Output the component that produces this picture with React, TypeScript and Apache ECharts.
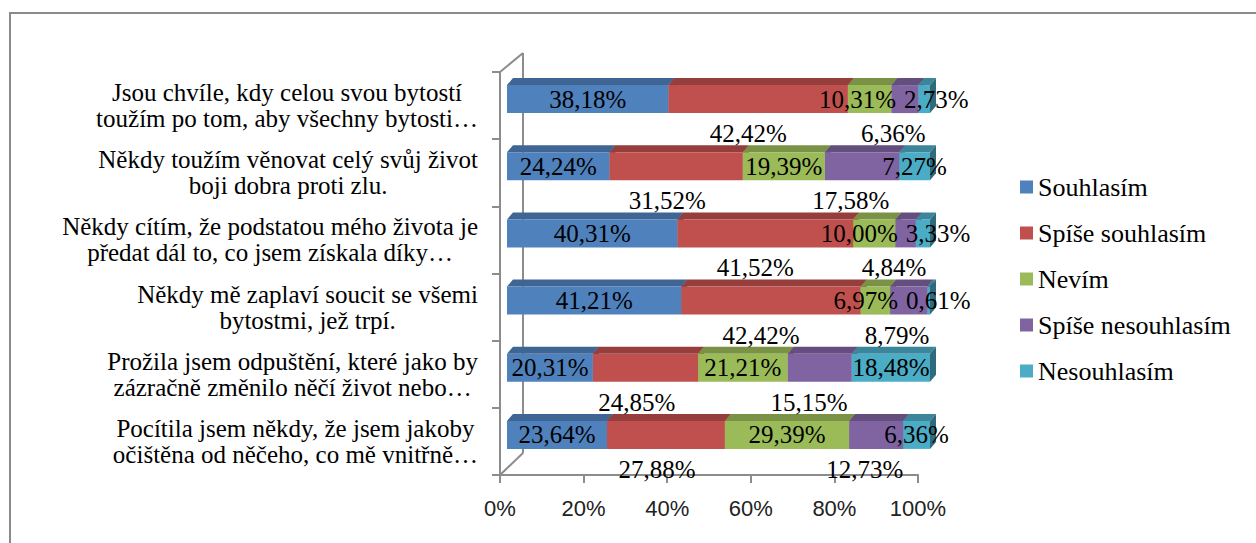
import React, { useEffect, useRef } from 'react';
import * as echarts from 'echarts';

const categories = [
  'Jsou chvíle, kdy celou svou bytostí\ntoužím po tom, aby všechny bytosti…',
  'Někdy toužím věnovat celý svůj život\nboji dobra proti zlu.',
  'Někdy cítím, že podstatou mého života je\npředat dál to, co jsem získala díky…',
  'Někdy mě zaplaví soucit se všemi\nbytostmi, jež trpí.',
  'Prožila jsem odpuštění, které jako by\nzázračně změnilo něčí život nebo…',
  'Pocítila jsem někdy, že jsem jakoby\nočištěna od něčeho, co mě vnitřně…',
];
const seriesNames = ['Souhlasím', 'Spíše souhlasím', 'Nevím', 'Spíše nesouhlasím', 'Nesouhlasím'];
const souhlasim = [38.18, 24.24, 40.31, 41.21, 20.31, 23.64];
const spiseSouhlasim = [42.42, 31.52, 41.52, 42.42, 24.85, 27.88];
const nevim = [10.31, 19.39, 10.0, 6.97, 21.21, 29.39];
const spiseNesouhlasim = [6.36, 17.58, 4.84, 8.79, 15.15, 12.73];
const nesouhlasim = [2.73, 7.27, 3.33, 0.61, 18.48, 6.36];
const xTicks = [0, 20, 40, 60, 80, 100];

const seriesValues = [souhlasim, spiseSouhlasim, nevim, spiseNesouhlasim, nesouhlasim];
const colors = ['#4F81BD', '#C0504D', '#9BBB59', '#8064A2', '#4BACC6'];

const SERIF = 'Times New Roman, Liberation Serif, serif';
const LABEL_SIZE = 25;
const CAT_SIZE = 25;
const LEGEND_SIZE = 26;
const DX = 6;
const DY = -7;
const BAR_H = 28;

function shade(hex: string, f: number) {
  const n = parseInt(hex.slice(1), 16);
  const r = Math.round(((n >> 16) & 255) * f);
  const g = Math.round(((n >> 8) & 255) * f);
  const b = Math.round((n & 255) * f);
  return `rgb(${r},${g},${b})`;
}

const fmt = (v: number) => v.toFixed(2).replace('.', ',') + '%';

function measure(text: string) {
  return echarts.format.getTextRect
    ? (echarts.format as any).getTextRect(text, `${LABEL_SIZE}px ${SERIF}`).width
    : text.length * LABEL_SIZE * 0.5;
}

const cumStart: number[][] = seriesValues.map((_, s) =>
  categories.map((__, i) => {
    let a = 0;
    for (let k = 0; k < s; k++) a += seriesValues[k][i];
    return a;
  })
);

function pushApart(items: { c: number; w: number }[], gap: number) {
  for (let iter = 0; iter < 20; iter++) {
    let moved = false;
    for (let k = 0; k < items.length - 1; k++) {
      const a = items[k];
      const b = items[k + 1];
      const overlap = a.c + a.w / 2 + gap - (b.c - b.w / 2);
      if (overlap > 0.5) {
        a.c -= overlap / 2;
        b.c += overlap / 2;
        moved = true;
      }
    }
    if (!moved) break;
  }
}

function labelRenderer(seriesIdx: number[], dyOffset: number) {
  return (params: any, api: any) => {
    const i = api.value(1);
    const cy = api.coord([0, i])[1] + dyOffset;
    const items = seriesIdx.map((s) => {
      const a = cumStart[s][i];
      const v = seriesValues[s][i];
      const text = fmt(v);
      return { s, text, c: api.coord([a + v / 2, i])[0], w: measure(text) };
    });
    pushApart(items, 8);
    return {
      type: 'group',
      children: items.map((it) => ({
        type: 'text',
        x: it.c,
        y: cy,
        z2: 100,
        style: {
          text: it.text,
          font: `${LABEL_SIZE}px ${SERIF}`,
          fill: '#000',
          align: 'center',
          verticalAlign: 'middle',
        },
      })),
    };
  };
}

export default function App() {
  const ref = useRef<HTMLDivElement>(null);
  useEffect(() => {
    if (!ref.current) return;
    const chart = echarts.init(ref.current, undefined, { renderer: 'svg' });

    const segmentSeries = seriesNames.map((name, s) => ({
      type: 'custom',
      name,
      xAxisIndex: 1,
      yAxisIndex: 1,
      z: 2,
      itemStyle: { color: colors[s] },
      encode: { x: [1, 2], y: 0 },
      data: categories.map((_, i) => [i, cumStart[s][i], cumStart[s][i] + seriesValues[s][i]]),
      renderItem: (params: any, api: any) => {
        const i = api.value(0);
        const p0 = api.coord([api.value(1), i]);
        const p1 = api.coord([api.value(2), i]);
        const x0 = p0[0];
        const x1 = p1[0];
        const yT = p0[1] - BAR_H / 2;
        const yB = p0[1] + BAR_H / 2;
        return {
          type: 'group',
          children: [
            {
              type: 'polygon',
              shape: { points: [[x0, yT], [x0 + DX, yT + DY], [x1 + DX, yT + DY], [x1, yT]] },
              style: { fill: shade(colors[s], 0.78) },
            },
            {
              type: 'polygon',
              shape: { points: [[x1, yT], [x1 + DX, yT + DY], [x1 + DX, yB + DY], [x1, yB]] },
              style: { fill: shade(colors[s], 0.62) },
            },
            {
              type: 'rect',
              shape: { x: x0, y: yT, width: x1 - x0, height: BAR_H },
              style: { fill: colors[s] },
            },
          ],
        };
      },
    }));

    const option: any = {
      animation: false,
      color: colors,
      textStyle: { fontFamily: SERIF },
      graphic: [
        {
          type: 'rect',
          z: 0,
          shape: { x: 10, y: 13, width: 1300, height: 600 },
          style: { fill: 'none', stroke: '#8a8a8a', lineWidth: 2 },
        },
        { type: 'line', z: 0, shape: { x1: 500, y1: 72, x2: 523, y2: 53 }, style: { stroke: '#8c8c8c', lineWidth: 2 } },
        { type: 'line', z: 0, shape: { x1: 523, y1: 53, x2: 523, y2: 453 }, style: { stroke: '#8c8c8c', lineWidth: 2 } },
        { type: 'line', z: 0, shape: { x1: 500, y1: 475, x2: 523, y2: 453 }, style: { stroke: '#8c8c8c', lineWidth: 2 } },
      ],
      legend: {
        orient: 'vertical',
        left: 1020,
        top: 174,
        padding: 0,
        itemWidth: 13,
        itemHeight: 13,
        itemGap: 20,
        icon: 'rect',
        data: seriesNames,
        textStyle: { fontFamily: SERIF, fontSize: LEGEND_SIZE, color: '#000', lineHeight: 26 },
      },
      grid: [
        { left: 500, top: 72, width: 418, height: 403 },
        { left: 507, top: 65.5, width: 423, height: 403 },
      ],
      xAxis: [
        {
          type: 'value',
          gridIndex: 0,
          min: 0,
          max: 100,
          interval: 20,
          splitLine: { show: false },
          axisLine: { show: true, lineStyle: { color: '#8c8c8c', width: 2 } },
          axisTick: { show: true, length: 8, lineStyle: { color: '#8c8c8c', width: 2 } },
          axisLabel: {
            margin: 22,
            formatter: (v: number) => (xTicks.includes(v) ? `${v}%` : ''),
            fontFamily: 'Liberation Sans, Arial, sans-serif',
            fontSize: 22,
            color: '#222',
          },
        },
        { type: 'value', gridIndex: 1, min: 0, max: 100, show: false },
      ],
      yAxis: [
        {
          type: 'category',
          gridIndex: 0,
          inverse: true,
          data: categories,
          axisLine: { show: true, lineStyle: { color: '#8c8c8c', width: 2 } },
          axisTick: { show: true, length: 8, lineStyle: { color: '#8c8c8c', width: 2 } },
          axisLabel: {
            margin: 22,
            interval: 0,
            fontFamily: SERIF,
            fontSize: CAT_SIZE,
            formatter: (v: string) =>
              v
                .split('\n')
                .map((l) => `{c|${l}}`)
                .join('\n'),
            rich: {
              c: {
                align: 'center',
                fontFamily: SERIF,
                fontSize: CAT_SIZE,
                lineHeight: 26,
                color: '#000',
              },
            },
          },
        },
        { type: 'category', gridIndex: 1, inverse: true, data: categories, show: false },
      ],
      series: [
        ...segmentSeries,
        {
          type: 'custom',
          name: 'inLabels',
          xAxisIndex: 1,
          yAxisIndex: 1,
          z: 10,
          silent: true,
          encode: { x: 0, y: 1 },
          data: categories.map((_, i) => [50, i]),
          renderItem: labelRenderer([0, 2, 4], 0),
        },
        {
          type: 'custom',
          name: 'belowLabels',
          xAxisIndex: 0,
          yAxisIndex: 0,
          z: 10,
          silent: true,
          encode: { x: 0, y: 1 },
          data: categories.map((_, i) => [50, i]),
          renderItem: labelRenderer([1, 3], 28),
        },
      ],
    };
    chart.setOption(option);
    return () => chart.dispose();
  }, []);
  return (
    <div
      ref={ref}
      style={{ position: 'absolute', left: 0, top: 0, width: 1256, height: 543, background: '#fff' }}
    />
  );
}
